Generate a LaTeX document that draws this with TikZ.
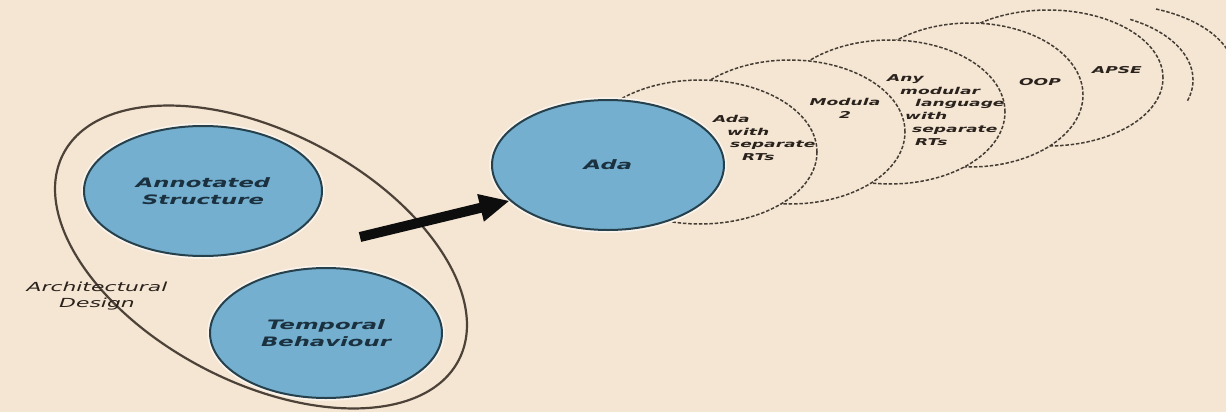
\documentclass[tikz,border=0pt]{standalone}
\usepackage{fontspec}
\usetikzlibrary{shapes.geometric,arrows.meta}
\newfontfamily\labfont[FakeStretch=1.75]{DejaVu Sans}
\newfontfamily\smallfont[FakeStretch=1.8]{DejaVu Sans}
\definecolor{bg}{HTML}{F5E6D4}
\definecolor{blueell}{HTML}{74AFCF}
\definecolor{blueedge}{HTML}{26404C}
\definecolor{inktext}{HTML}{1B3140}
\definecolor{pencil}{HTML}{4C4238}
\definecolor{dashink}{HTML}{453C34}
\definecolor{smallink}{HTML}{2A221C}
\definecolor{halo}{HTML}{FBF4EC}
\begin{document}
\begin{tikzpicture}[x=1pt,y=-1pt,
  blueball/.style={ellipse, fill=blueell, draw=blueedge, line width=2pt,
     preaction={draw=halo, line width=5.5pt}, inner sep=0pt},
  dashball/.style={ellipse, fill=bg, draw=dashink, line width=1.5pt,
     dash pattern=on 3.5pt off 1.8pt, inner sep=0pt},
  dasharc/.style={draw=dashink, line width=1.5pt, dash pattern=on 3.5pt off 1.8pt},
  bigtext/.style={font=\labfont\itshape\bfseries\fontsize{13}{17}\selectfont,
     text=inktext, align=center},
  archtext/.style={font=\labfont\itshape\fontsize{12.5}{16}\selectfont,
     text=smallink, align=center},
  smalltext/.style={font=\smallfont\itshape\bfseries\fontsize{9.5}{12.8}\selectfont,
     text=smallink, align=left, inner sep=0pt}]
\useasboundingbox (0,0) rectangle (1226,412);
\fill[bg] (0,0) rectangle (1226,412);

% far arcs
\draw[dasharc] (1130.2,19.4) arc[start angle=63, end angle=-18, x radius=115pt, y radius=68pt];
\draw[dasharc] (1156,9) arc[start angle=68, end angle=-12, x radius=125pt, y radius=68pt];

% receding dashed ellipses, far to near
\node[dashball, minimum width=230pt, minimum height=136pt] (apse) at (1048,78) {};
\node[dashball, minimum width=226pt, minimum height=144pt] (oop) at (970,95) {};
\node[dashball, minimum width=230pt, minimum height=144pt] (anymod) at (890,112) {};
\node[dashball, minimum width=230pt, minimum height=144pt] (modula) at (790,132) {};
\node[dashball, minimum width=234pt, minimum height=144pt] (adasep) at (700,152) {};

% Ada
\node[blueball, bigtext, minimum width=232pt, minimum height=130pt] (ada) at (608,165) {Ada};

% labels in the receding ellipses
\node[smalltext, anchor=west] (l1) at (713,138)
  {Ada\\\hspace*{14pt}with\\\hspace*{17pt}separate\\\hspace*{29pt}RTs};
\node[smalltext, align=center] (l2) at (845,108) {Modula\\2};
\node[smalltext, anchor=west] (l3) at (887,110)
  {Any\\\hspace*{13pt}modular\\\hspace*{28pt}language\\\hspace*{18pt}with\\\hspace*{25pt}separate\\\hspace*{28pt}RTs};
\node[smalltext] (l4) at (1040,82) {OOP};
\node[smalltext] (l5) at (1117,70) {APSE};

% architectural design group
\node[ellipse, draw=pencil, line width=2.2pt, inner sep=0pt,
      minimum width=446pt, minimum height=250pt, rotate=-27.6] (archset) at (261,257) {};
\node[blueball, bigtext, minimum width=238pt, minimum height=130pt] (annot) at (203,191)
  {Annotated\\Structure};
\node[blueball, bigtext, minimum width=232pt, minimum height=130pt] (temporal) at (326,333)
  {Temporal\\Behaviour};
\node[archtext] (archlabel) at (97,296) {Architectural\\Design};

% arrow
\coordinate (arrstart) at (360,237);
\draw[line width=10pt, black!95, -{Triangle[length=30pt,width=26pt]}] (arrstart) -- (ada.200);
\end{tikzpicture}
\end{document}
